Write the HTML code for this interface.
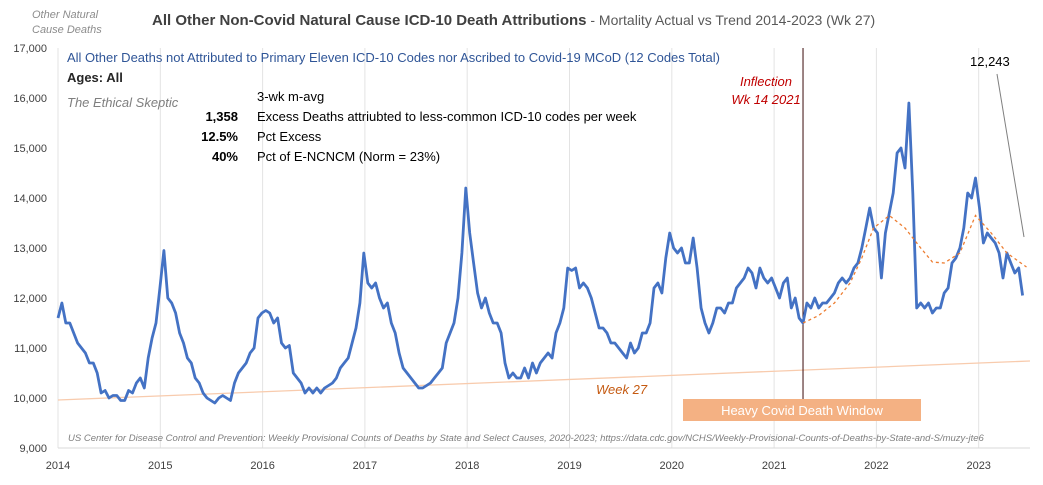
<!DOCTYPE html>
<html><head><meta charset="utf-8"><style>
body{margin:0;background:#fff;}
svg text{font-family:"Liberation Sans",sans-serif;}
</style></head><body>
<svg id="chart" width="1043" height="480" xmlns="http://www.w3.org/2000/svg">
<rect width="1043" height="480" fill="#fff"/>
<g id="grid"></g>
<g id="yticks"></g>
<g id="xticks"></g>
<text x="32" y="18" font-size="11" font-style="italic" fill="#8c8c8c">Other Natural</text>
<text x="32" y="33" font-size="11" font-style="italic" fill="#8c8c8c">Cause Deaths</text>
<text x="152" y="25" font-size="15" fill="#404040"><tspan font-weight="bold">All Other Non-Covid Natural Cause ICD-10 Death Attributions</tspan><tspan font-size="14" fill="#595959"> - Mortality Actual vs Trend  2014-2023 (Wk 27)</tspan></text>
<text x="67" y="62" font-size="13" fill="#2f5597">All Other Deaths not Attributed to Primary Eleven ICD-10 Codes nor Ascribed to Covid-19 MCoD (12 Codes Total)</text>
<text x="67" y="82" font-size="13" font-weight="bold" fill="#262626">Ages: All</text>
<text x="67" y="107" font-size="13" font-style="italic" font-family="Liberation Serif,serif" fill="#7f7f7f">The Ethical Skeptic</text>
<text x="257" y="101" font-size="13" fill="#000">3-wk m-avg</text>
<text x="238" y="121" font-size="13" font-weight="bold" text-anchor="end">1,358</text>
<text x="257" y="121" font-size="13">Excess Deaths attriubted to less-common ICD-10 codes per week</text>
<text x="238" y="141" font-size="13" font-weight="bold" text-anchor="end">12.5%</text>
<text x="257" y="141" font-size="13">Pct Excess</text>
<text x="238" y="161" font-size="13" font-weight="bold" text-anchor="end">40%</text>
<text x="257" y="161" font-size="13">Pct of E-NCNCM (Norm = 23%)</text>
<g id="marks"></g>
<text x="766" y="86" font-size="13" font-style="italic" fill="#c00000" text-anchor="middle">Inflection</text>
<text x="766" y="104" font-size="13" font-style="italic" fill="#c00000" text-anchor="middle">Wk 14 2021</text>
<text x="596" y="394" font-size="13" font-style="italic" fill="#c55a11">Week 27</text>
<rect x="683" y="399" width="238" height="22" fill="#f4b183"/>
<text x="802" y="415" font-size="13" fill="#fff" text-anchor="middle">Heavy Covid Death Window</text>
<text x="970" y="66" font-size="13" fill="#000">12,243</text>
<line x1="997" y1="74" x2="1024" y2="237" stroke="#7f7f7f" stroke-width="1"/>
<text x="68" y="441" font-size="9.5" font-style="italic" fill="#7f7f7f">US Center for Disease Control and Prevention: Weekly Provisional Counts of Deaths by State and Select Causes, 2020-2023; https://data.cdc.gov/NCHS/Weekly-Provisional-Counts-of-Deaths-by-State-and-S/muzy-jte6</text>
</svg>
<script>
const yTicks=[9000,10000,11000,12000,13000,14000,15000,16000,17000];
const yearLabels=["2014","2015","2016","2017","2018","2019","2020","2021","2022","2023"];
const actual=[
11600,11900,11500,11500,11300,11100,11000,10900,10700,10700,10500,10100,10150,10000,10050,10050,9950,9950,10150,10100,10300,10400,10200,10800,11200,11500,
12200,12950,12000,11900,11700,11300,11100,10800,10700,10400,10300,10100,10000,9950,9900,10000,10050,10000,9950,10300,10500,10600,10700,10900,11000,11600,
11700,11750,11700,11500,11600,11100,11000,11050,10500,10400,10300,10100,10200,10100,10200,10100,10200,10250,10300,10400,10600,10700,10800,11100,11400,11900,
12900,12300,12200,12300,12000,11800,11900,11500,11300,10900,10600,10500,10400,10300,10200,10200,10250,10300,10400,10500,10600,11100,11300,11500,12000,12900,
14200,13300,12700,12100,11800,12000,11700,11500,11500,11300,10700,10400,10500,10400,10400,10600,10400,10700,10500,10700,10800,10900,10800,11300,11500,11800,
12600,12550,12600,12200,12300,12200,12000,11700,11400,11400,11300,11100,11100,11000,10900,10800,11100,10900,11000,11300,11300,11500,12200,12300,12100,12800,
13300,13000,12900,13000,12700,12700,13200,12600,11800,11500,11300,11500,11800,11800,11700,11900,11900,12200,12300,12400,12600,12500,12200,12600,12400,12300,
12400,12200,12000,12300,12400,11800,12000,11600,11500,11900,11800,12000,11800,11900,11900,12000,12100,12300,12400,12300,12400,12600,12700,13000,13400,13800,
13400,13300,12400,13300,13700,14100,14900,15000,14600,15900,14100,11800,11900,11800,11900,11700,11800,11800,12100,12200,12700,12800,13000,13400,14100,14000,
14400,13800,13100,13300,13200,13100,12900,12400,12900,12700,12500,12600,12050];
const trendIdx=[190,194,198,202,205,208,212,216,220,223,226,230,234,238,242,247];
const trendVal=[11500,11650,11900,12300,12800,13400,13650,13400,13000,12720,12700,12900,13650,13300,12900,12620];
const baseVal=[9960,10740];
const inflectionIdx=190;

const X0=58, YR=102.3, Y0=448, YS=0.05;
const xs=i=>X0+i*14/365.25*YR;
const ys=v=>Y0-(v-9000)*YS;
const NS="http://www.w3.org/2000/svg";
function mk(tag,attrs,parent){const e=document.createElementNS(NS,tag);for(const k in attrs)e.setAttribute(k,attrs[k]);parent.appendChild(e);return e;}
const grid=document.getElementById('grid'),yt=document.getElementById('yticks'),xt=document.getElementById('xticks'),marks=document.getElementById('marks');
yearLabels.forEach((l,k)=>{const x=X0+k*YR;
 const g=mk('line',{x1:x,y1:48,x2:x,y2:448,stroke:'#e3e3e3','stroke-width':1},grid);
 
 
 const t=mk('text',{x:x,y:469,'font-size':11,'text-anchor':'middle',fill:'#404040'},xt);t.textContent=l;
 
 
});
const ax=mk('line',{x1:X0,y1:448,x2:1030,y2:448,stroke:'#d9d9d9','stroke-width':1},grid);


yTicks.forEach(v=>{const t=mk('text',{x:47,y:ys(v)+4,'font-size':11,'text-anchor':'end',fill:'#404040'},yt);t.textContent=v.toLocaleString('en-US');
 
 
});
const bl=mk('line',{x1:X0,y1:ys(baseVal[0]),x2:1030,y2:ys(baseVal[1]),stroke:'#f8cbad','stroke-width':1.3},marks);


const il=mk('line',{x1:xs(inflectionIdx),y1:48,x2:xs(inflectionIdx),y2:400,stroke:'#3a0a0a','stroke-width':1},marks);


const ap=mk('path',{d:actual.map((v,i)=>(i?'L':'M')+xs(i).toFixed(1)+' '+ys(v).toFixed(1)).join(''),fill:'none',stroke:'#4472c4','stroke-width':2.8,'stroke-linejoin':'round'},marks);


const tp=mk('path',{d:trendVal.map((v,i)=>(i?'L':'M')+xs(trendIdx[i]).toFixed(1)+' '+ys(v).toFixed(1)).join(''),fill:'none',stroke:'#ed7d31','stroke-width':1.3,'stroke-dasharray':'3 3'},marks);


</script>
</body></html>
